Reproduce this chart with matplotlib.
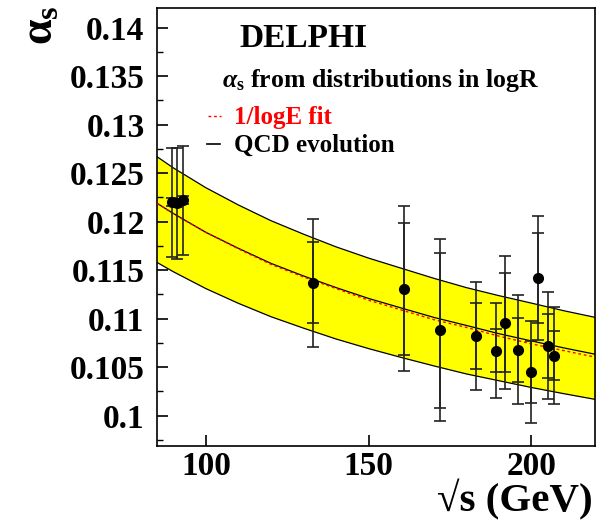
import matplotlib
matplotlib.use("Agg")
import matplotlib.pyplot as plt
from matplotlib.ticker import MultipleLocator

# ---- data ----
energy = [89.5, 91.2, 93.0, 133, 161, 172, 183, 189, 192, 196, 200, 202, 205, 207]
alpha_s = [0.1220, 0.1219, 0.1222, 0.1137, 0.1131, 0.1088, 0.1082, 0.1067,
           0.1096, 0.1068, 0.1045, 0.1142, 0.1072, 0.1062]
tot_err = [0.0056, 0.0057, 0.0056, 0.0066, 0.0085, 0.0094, 0.0056, 0.0049,
           0.0069, 0.0056, 0.0053, 0.0064, 0.0055, 0.0050]
stat_err = [0.0004, 0.0004, 0.0004, 0.0042, 0.0068, 0.0080, 0.0034, 0.0022,
            0.0051, 0.0033, 0.0032, 0.0046, 0.0033, 0.0025]

curve_e = [85, 90, 100, 110, 120, 130, 140, 150, 160, 170, 180, 190, 200, 210, 220]
qcd_central = [0.1219, 0.12085, 0.1189, 0.11725, 0.1157, 0.1144, 0.1132, 0.11208,
               0.1111, 0.11013, 0.1093, 0.10845, 0.1077, 0.10698, 0.1063]
qcd_upper = [0.1267, 0.12555, 0.1235, 0.12172, 0.1201, 0.11871, 0.1174, 0.11624,
             0.1152, 0.11416, 0.1132, 0.11237, 0.1116, 0.11081, 0.1101]
qcd_lower = [0.1158, 0.11484, 0.1131, 0.11158, 0.1102, 0.10902, 0.1079, 0.10691,
             0.1060, 0.10513, 0.1043, 0.10360, 0.1029, 0.10226, 0.10165]
logE_fit = [0.1219, 0.1208, 0.1189, 0.1172, 0.1156, 0.1143, 0.1131, 0.1119,
            0.1109, 0.1099, 0.1091, 0.1082, 0.1074, 0.1067, 0.1060]

y_ticks = [0.10, 0.105, 0.11, 0.115, 0.12, 0.125, 0.13, 0.135, 0.14]
y_tick_labels = ["0.1", "0.105", "0.11", "0.115", "0.12", "0.125", "0.13", "0.135", "0.14"]
x_ticks = [100, 150, 200]
x_tick_labels = ["100", "150", "200"]

# ---- style ----
plt.rcParams['font.family'] = ['Liberation Serif', 'DejaVu Serif']
plt.rcParams['font.weight'] = 'bold'
plt.rcParams['mathtext.fontset'] = 'custom'
plt.rcParams['mathtext.rm'] = 'Liberation Serif'
plt.rcParams['mathtext.it'] = 'Liberation Serif:italic'
plt.rcParams['mathtext.bf'] = 'Liberation Serif:bold'

W, H = 604, 529
fig = plt.figure(figsize=(W / 100, H / 100), dpi=100)
ax = fig.add_axes([157 / W, 1 - 445.7 / H, (595 - 157) / W, (445.7 - 8.3) / H])

ax.fill_between(curve_e, qcd_lower, qcd_upper, color='#ffff00', lw=0, zorder=1)
ax.plot(curve_e, qcd_upper, color='black', lw=0.9, zorder=2)
ax.plot(curve_e, qcd_lower, color='black', lw=0.9, zorder=2)
ax.plot(curve_e, qcd_central, color='black', lw=0.9, zorder=2)
ax.plot(curve_e, logE_fit, color='red', lw=1.0, ls=(0, (2, 2)), zorder=3)

ax.errorbar(energy, alpha_s, yerr=tot_err, fmt='none', ecolor='#222222',
            elinewidth=1.2, capsize=4, capthick=1.2, zorder=4)
ax.errorbar(energy, alpha_s, yerr=stat_err, fmt='none', ecolor='#222222',
            elinewidth=1.2, capsize=4, capthick=1.2, zorder=4)
ax.plot(energy, alpha_s, 'o', color='black', ms=7, zorder=5)

ax.set_xlim(85, 219.5)
ax.set_ylim(0.0969, 0.1420)

ax.set_yticks(y_ticks)
ax.set_yticklabels(y_tick_labels, fontsize=24, fontweight='bold')
ax.yaxis.set_minor_locator(MultipleLocator(0.0025))
ax.set_xticks(x_ticks)
ax.set_xticklabels(x_tick_labels, fontsize=24, fontweight='bold')
ax.tick_params(axis='y', which='major', direction='in', length=8, width=1.2,
               pad=9, right=False)
ax.tick_params(axis='y', which='minor', direction='in', length=4, width=1.0,
               right=False)
ax.tick_params(axis='x', which='major', direction='in', length=8, width=1.2,
               pad=4, top=False)
for s in ax.spines.values():
    s.set_linewidth(1.2)

def fx(px):
    return px / W

def fy(py):
    return 1 - py / H

fig.text(fx(593), fy(500), '\u221as (GeV)', fontsize=29.5, fontweight='bold',
         ha='right', va='center')
fig.text(fx(42), fy(25), r'$\mathrm{\alpha}_{\mathbf{s}}$', fontsize=33, rotation=90,
         ha='center', va='center')

fig.text(fx(239), fy(46.7), 'DELPHI', fontsize=24, fontweight='bold',
         ha='left', va='baseline')
fig.text(fx(222), fy(86.7), r'$\alpha_{\mathbf{s}}$ from distributions in logR',
         fontsize=18.5, fontweight='bold', ha='left', va='baseline')

ax.plot([fx(208), fx(221)], [fy(116), fy(116)], transform=fig.transFigure,
        color='red', lw=1.0, ls=(0, (2, 2)), clip_on=False)
fig.text(fx(234), fy(124), '1/logE fit', fontsize=18, fontweight='bold',
         color='red', ha='left', va='baseline')
ax.plot([fx(207), fx(220)], [fy(144), fy(144)], transform=fig.transFigure,
        color='black', lw=1.2, clip_on=False)
fig.text(fx(234), fy(152), 'QCD evolution', fontsize=18, fontweight='bold',
         ha='left', va='baseline')

fig.savefig('out.png', dpi=100)
